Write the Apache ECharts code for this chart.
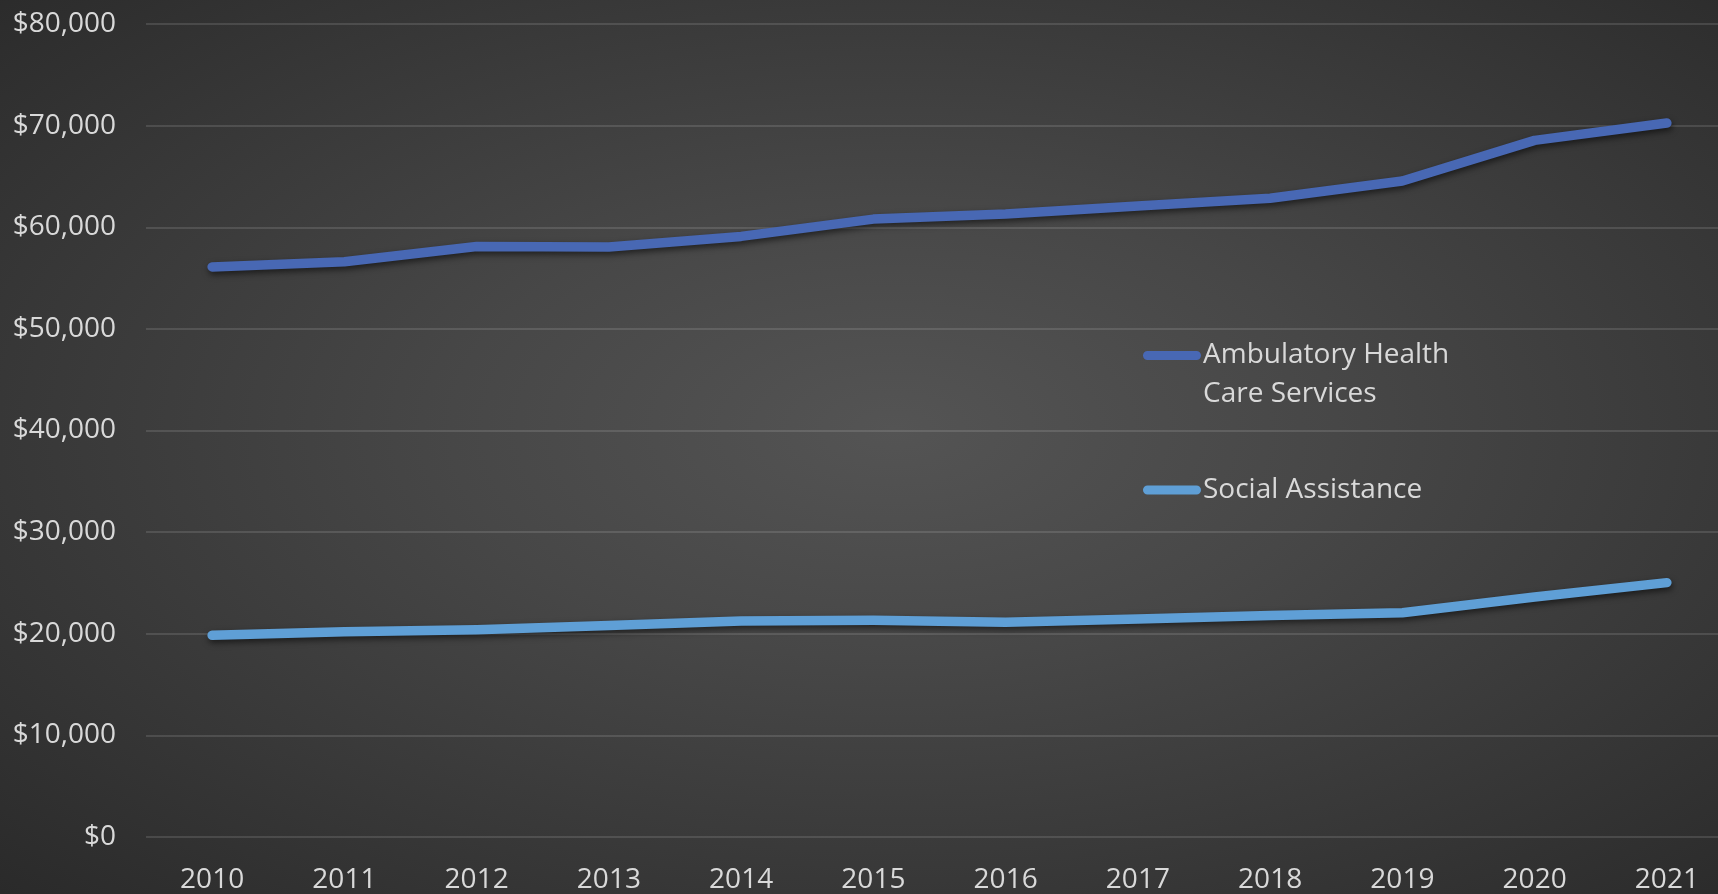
<!DOCTYPE html>
<html>
<head>
<meta charset="utf-8">
<script src="https://cdn.jsdelivr.net/npm/echarts@6/dist/echarts.min.js"></script>
<style>
  html, body { margin: 0; padding: 0; }
  #chart {
    width: 1718px; height: 894px;
    background: radial-gradient(ellipse at 52% 48%, #545454 0%, #474747 35%, #2a2a2a 100%);
  }
</style>
</head>
<body>
<div id="chart"></div>
<script>
const years = ['2010','2011','2012','2013','2014','2015','2016','2017','2018','2019','2020','2021'];
const ambulatory = [56100, 56600, 58100, 58050, 59100, 60800, 61300, 62100, 62850, 64550, 68550, 70250];
const social = [19850, 20200, 20400, 20800, 21250, 21330, 21130, 21460, 21790, 22060, 23620, 25030];
const seriesNames = ['Ambulatory Health Care Services', 'Social Assistance'];
const legendLabels = { 'Ambulatory Health Care Services': 'Ambulatory Health\nCare Services', 'Social Assistance': 'Social Assistance' };

const FONT = '"Open Sans", "Noto Sans", sans-serif';
const TXT = '#d9d9d9';
const colors = ['#4868b4', '#5f9fd6'];

// icon path: bar at top of a tall box (for two-line label) / bar centered
const iconTop = 'path://M0,0h0.01v0.01h-0.01z M4.5,0H53.5A4.5,4.5 0 0 1 53.5,9H4.5A4.5,4.5 0 0 1 4.5,0Z M0,47.99h0.01v0.01h-0.01z';
const iconMid = 'path://M0,0h0.01v0.01h-0.01z M4.5,19.5H53.5A4.5,4.5 0 0 1 53.5,28.5H4.5A4.5,4.5 0 0 1 4.5,19.5Z M0,47.99h0.01v0.01h-0.01z';

const chart = echarts.init(document.getElementById('chart'), null, { renderer: 'canvas' });
chart.setOption({
  animation: false,
  backgroundColor: 'transparent',
  textStyle: { fontFamily: FONT },
  grid: { left: 146, top: 24, width: 1587, height: 813, containLabel: false, outerBoundsMode: 'none' },
  legend: {
    orient: 'vertical',
    left: 1143,
    top: 336,
    itemWidth: 58,
    itemHeight: 48,
    itemGap: 52,
    padding: 0,
    data: [
      { name: seriesNames[0], icon: iconTop, itemStyle: { color: colors[0] } },
      { name: seriesNames[1], icon: iconMid, itemStyle: { color: colors[1] } }
    ],
    formatter: n => legendLabels[n],
    textStyle: { color: TXT, fontSize: 28, lineHeight: 39, fontFamily: FONT, padding: [0, 0, 0, -3] }
  },
  xAxis: {
    type: 'category',
    data: years,
    boundaryGap: true,
    axisLine: { show: false },
    axisTick: { show: false },
    axisLabel: { color: TXT, fontSize: 28, fontFamily: FONT, margin: 29 },
    splitLine: { show: false }
  },
  yAxis: {
    type: 'value',
    min: 0, max: 80000, interval: 10000,
    axisLine: { show: false },
    axisTick: { show: false },
    axisLabel: {
      color: TXT, fontSize: 28, fontFamily: FONT, margin: 30,
      formatter: v => '$' + v.toLocaleString('en-US')
    },
    splitLine: { show: true, lineStyle: { color: 'rgba(255,255,255,0.12)', width: 2 } }
  },
  series: [
    {
      name: seriesNames[0], type: 'line', data: ambulatory,
      showSymbol: false, symbol: 'none', smooth: false,
      color: colors[0],
      lineStyle: { color: colors[0], width: 9.5, cap: 'round', join: 'round',
        shadowColor: 'rgba(0,0,0,0.55)', shadowBlur: 6, shadowOffsetY: 3, shadowOffsetX: 1 }
    },
    {
      name: seriesNames[1], type: 'line', data: social,
      showSymbol: false, symbol: 'none', smooth: false,
      color: colors[1],
      lineStyle: { color: colors[1], width: 9.5, cap: 'round', join: 'round',
        shadowColor: 'rgba(0,0,0,0.55)', shadowBlur: 6, shadowOffsetY: 3, shadowOffsetX: 1 }
    }
  ]
});
</script>
</body>
</html>
